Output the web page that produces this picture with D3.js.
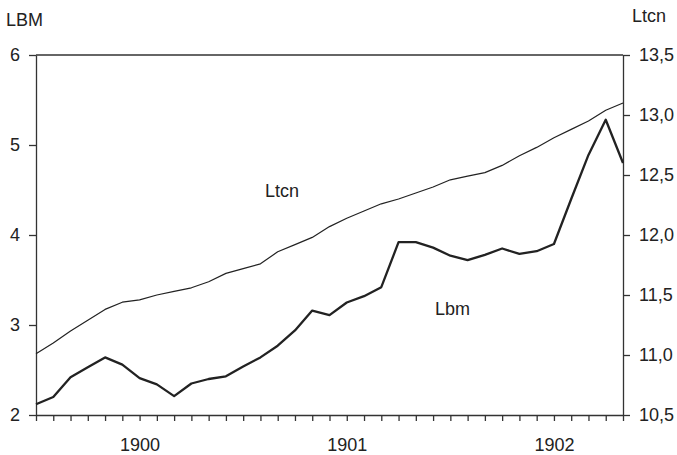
<!DOCTYPE html>
<html lang="de">
<head>
  <meta charset="UTF-8">
  <title>LBM und Ltcn</title>
  <script src="https://d3js.org/d3.v7.min.js"></script>
  <style>
    body {
      margin: 0;
      background: #fff;
      font-family: "Liberation Sans", Arial, sans-serif;
    }
    .axis text {
      font-size: 18px;
      fill: #222;
    }
    .axis path, .axis line {
      stroke: #333;
      stroke-width: 1.3;
    }
    .label {
      font-size: 18px;
      fill: #222;
    }
  </style>
</head>
<body>
  <svg width="677" height="455"></svg>

  <script>
    // Monate 1899-07 bis 1902-05
    const months = [
      "1899-07", "1899-08", "1899-09", "1899-10", "1899-11", "1899-12",
      "1900-01", "1900-02", "1900-03", "1900-04", "1900-05", "1900-06",
      "1900-07", "1900-08", "1900-09", "1900-10", "1900-11", "1900-12",
      "1901-01", "1901-02", "1901-03", "1901-04", "1901-05", "1901-06",
      "1901-07", "1901-08", "1901-09", "1901-10", "1901-11", "1901-12",
      "1902-01", "1902-02", "1902-03", "1902-04", "1902-05"
    ];

    // Lbm (linke Achse)
    const lbm = [
      2.12, 2.20, 2.42, 2.53, 2.64, 2.56, 2.41, 2.34, 2.21, 2.35, 2.40, 2.43,
      2.54, 2.64, 2.77, 2.94, 3.16, 3.11, 3.25, 3.32, 3.42, 3.92, 3.92, 3.86,
      3.77, 3.72, 3.78, 3.85, 3.79, 3.82, 3.90, 4.40, 4.89, 5.28, 4.80
    ];

    // Ltcn (rechte Achse)
    const ltcn = [
      11.01, 11.10, 11.20, 11.29, 11.38, 11.44, 11.46, 11.50, 11.53, 11.56, 11.61, 11.68,
      11.72, 11.76, 11.86, 11.92, 11.98, 12.07, 12.14, 12.20, 12.26, 12.30, 12.35, 12.40,
      12.46, 12.49, 12.52, 12.58, 12.66, 12.73, 12.81, 12.88, 12.95, 13.04, 13.10
    ];

    const leftTicks = [2, 3, 4, 5, 6];
    const rightTicks = [10.5, 11.0, 11.5, 12.0, 12.5, 13.0, 13.5];

    const svg = d3.select("svg");
    const margin = { top: 55, right: 54, bottom: 40, left: 36 };
    const width = +svg.attr("width") - margin.left - margin.right;
    const height = +svg.attr("height") - margin.top - margin.bottom;

    const g = svg.append("g").attr("transform", `translate(${margin.left},${margin.top})`);

    const x = d3.scaleLinear()
      .domain([0, months.length - 1])
      .range([0, width]);

    const yL = d3.scaleLinear().domain([2, 6]).range([height, 0]);
    const yR = d3.scaleLinear().domain([10.5, 13.5]).range([height, 0]);

    // Rahmen oben
    g.append("line")
      .attr("x1", 0).attr("x2", width)
      .attr("y1", 0).attr("y2", 0)
      .attr("stroke", "#333").attr("stroke-width", 1.3);

    // x-Achse: Monatsstriche, Jahreszahlen im Januar
    g.append("g")
      .attr("class", "axis")
      .attr("transform", `translate(0,${height})`)
      .call(d3.axisBottom(x)
        .tickValues(d3.range(months.length))
        .tickSize(6)
        .tickSizeOuter(0)
        .tickPadding(17)
        .tickFormat(i => months[i].endsWith("-01") ? months[i].slice(0, 4) : ""));

    // linke Achse
    g.append("g")
      .attr("class", "axis")
      .call(d3.axisLeft(yL)
        .tickValues(leftTicks)
        .tickSize(7)
        .tickSizeOuter(0)
        .tickPadding(9)
        .tickFormat(d3.format("d")));

    // rechte Achse
    g.append("g")
      .attr("class", "axis")
      .attr("transform", `translate(${width},0)`)
      .call(d3.axisRight(yR)
        .tickValues(rightTicks)
        .tickSize(7)
        .tickSizeOuter(0)
        .tickPadding(9)
        .tickFormat(d => d3.format(".1f")(d).replace(".", ",")));

    // Linien
    const lineL = d3.line().x((d, i) => x(i)).y(d => yL(d));
    const lineR = d3.line().x((d, i) => x(i)).y(d => yR(d));

    g.append("path")
      .datum(ltcn)
      .attr("fill", "none")
      .attr("stroke", "#222")
      .attr("stroke-width", 1.2)
      .attr("stroke-linejoin", "round")
      .attr("d", lineR);

    g.append("path")
      .datum(lbm)
      .attr("fill", "none")
      .attr("stroke", "#222")
      .attr("stroke-width", 2.3)
      .attr("stroke-linejoin", "round")
      .attr("d", lineL);

    // Beschriftungen
    svg.append("text").attr("class", "label").attr("x", 6).attr("y", 26).text("LBM");
    svg.append("text").attr("class", "label").attr("x", 632).attr("y", 22).text("Ltcn");
    svg.append("text").attr("class", "label").attr("x", 265).attr("y", 197).text("Ltcn");
    svg.append("text").attr("class", "label").attr("x", 435).attr("y", 315).text("Lbm");
  </script>
</body>
</html>
